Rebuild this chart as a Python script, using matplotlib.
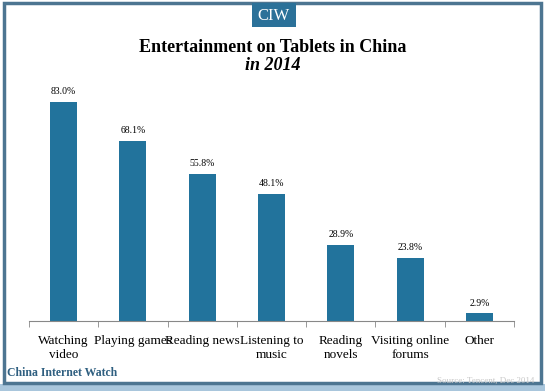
import matplotlib.pyplot as plt
from matplotlib.patches import Rectangle

categories = ["Watching\nvideo", "Playing games", "Reading news", "Listening to\nmusic",
              "Reading\nnovels", "Visiting online\nforums", "Other"]
values = [83.0, 68.1, 55.8, 48.1, 28.9, 23.8, 2.9]
value_labels = ["83.0%", "68.1%", "55.8%", "48.1%", "28.9%", "23.8%", "2.9%"]

bar_color = "#22739c"
serif = ["Liberation Serif", "DejaVu Serif"]

fig = plt.figure(figsize=(5.45, 3.91), dpi=100)
fig.patch.set_facecolor("white")

# frame round the picture
fig.patches.append(Rectangle((0.0, 0.0), 1.0, 0.018, transform=fig.transFigure,
                             facecolor="#a9c6dc", edgecolor="none", zorder=0))
fig.patches.append(Rectangle((4 / 545, 8.5 / 391), 537 / 545, 380 / 391, transform=fig.transFigure,
                             facecolor="none", edgecolor="#4d7591", linewidth=2.5, zorder=1))

# CIW badge
fig.patches.append(Rectangle((252 / 545, 1 - 27 / 391), 44 / 545, 24 / 391,
                             transform=fig.transFigure, facecolor="#2b7199",
                             edgecolor="none", zorder=2))
fig.text(274 / 545, 1 - 15.5 / 391, "CIW", color="white", fontsize=12,
         family=serif, ha="center", va="center", zorder=3)

fig.text(0.5, 1 - 48 / 391, "Entertainment on Tablets in China", fontsize=13,
         fontweight="bold", family=serif, ha="center", va="center")
fig.text(0.5, 1 - 66 / 391, "in 2014", fontsize=13, fontweight="bold",
         style="italic", family=serif, ha="center", va="center")

ax = fig.add_axes([29 / 545, 70 / 391, 485 / 545, 226 / 391])
x = range(len(categories))
bars = ax.bar(x, values, width=0.39, color=bar_color)
for b, lab in zip(bars, value_labels):
    ax.text(b.get_x() + b.get_width() / 2, b.get_height() + 2.2, lab,
            ha="center", va="bottom", fontsize=7, family=serif)

ax.set_xlim(-0.5, len(categories) - 0.5)
ax.set_ylim(0, 85.6)
ax.set_yticks([])
for s in ["top", "right", "left"]:
    ax.spines[s].set_visible(False)
ax.spines["bottom"].set_color("#888888")
ax.spines["bottom"].set_linewidth(0.8)
ax.set_xticks([i - 0.5 for i in range(len(categories) + 1)], minor=True)
ax.set_xticks(list(x))
ax.set_xticklabels(categories, fontsize=9.5, family=serif)
ax.tick_params(axis="x", which="major", length=0, pad=10)
ax.tick_params(axis="x", which="minor", length=4, color="#888888", direction="out")

fig.text(7 / 545, 1 - 373 / 391, "China Internet Watch", fontsize=8.5,
         fontweight="bold", family=serif, color="#2f5f80", ha="left", va="center")
fig.text(534 / 545, 1 - 381 / 391, "Source: Tencent, Dec 2014", fontsize=6.5,
         family=serif, color="#c8c8c8", ha="right", va="center")

fig.savefig("out.png", dpi=100)
